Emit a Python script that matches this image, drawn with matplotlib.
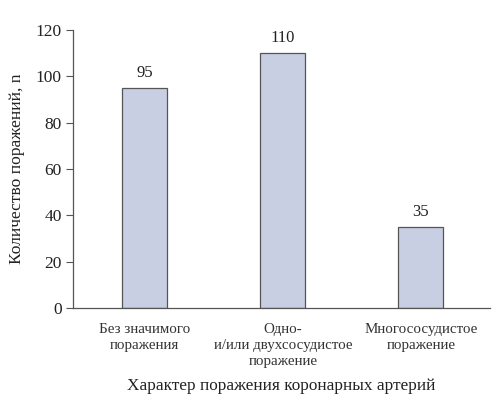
import matplotlib
matplotlib.use('Agg')
import matplotlib.pyplot as plt

categories = ['Без значимого\nпоражения', 'Одно-\nи/или двухсосудистое\nпоражение', 'Многососудистое\nпоражение']
counts = [95, 110, 35]
yticks = [0, 20, 40, 60, 80, 100, 120]

plt.rc('font', family='Liberation Serif')

fig = plt.figure(figsize=(5.0, 4.04), dpi=100)
ax = fig.add_axes([0.146, 0.2376, 0.834, 0.688])

x = list(range(len(categories)))
ax.bar(x, counts, width=0.326, color='#c8cfe2', edgecolor='#555555', linewidth=0.9)
for xi, v in zip(x, counts):
  ax.text(xi, v + 3, str(v), ha='center', va='bottom', fontsize=12, color='#222222')

ax.set_xlim(-0.52, 2.5)
ax.set_ylim(0, 120)
ax.set_yticks(yticks)
ax.set_xticks(x)
ax.set_xticklabels(categories, fontsize=10.8, color='#333333', linespacing=1.3)
ax.tick_params(axis='x', length=0, pad=11)
ax.tick_params(axis='y', length=5, width=0.8, color='#555555', labelsize=12.5, pad=3,
               labelcolor='#222222')
for s in ['top', 'right']:
  ax.spines[s].set_visible(False)
for s in ['left', 'bottom']:
  ax.spines[s].set_color('#555555')
  ax.spines[s].set_linewidth(0.9)

ax.set_ylabel('Количество поражений, n', fontsize=12.6, labelpad=8, color='#222222')
ax.set_xlabel('Характер поражения коронарных артерий', fontsize=12.4, labelpad=7, color='#222222')

plt.savefig('out.png', dpi=100)
